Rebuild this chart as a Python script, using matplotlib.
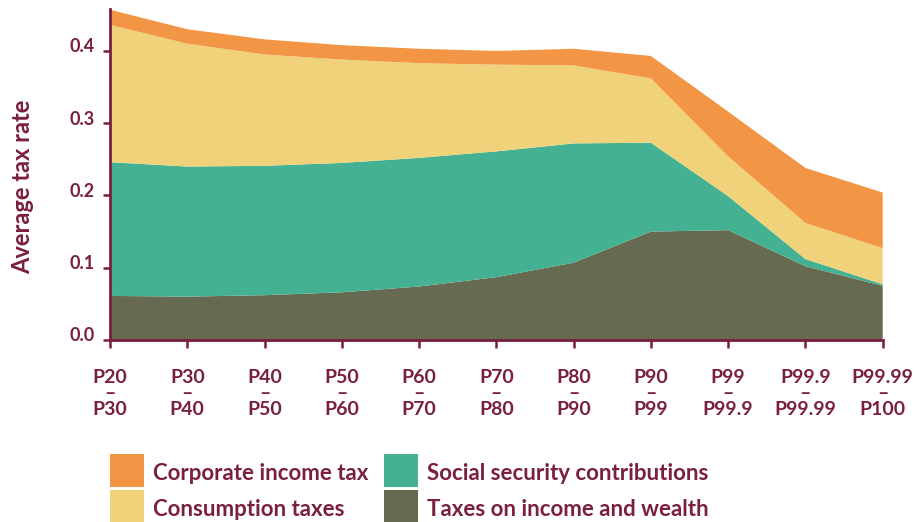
"""Average tax rate by income group, stacked by tax type."""

import matplotlib
matplotlib.use("Agg")
import matplotlib.pyplot as plt
import matplotlib.transforms as mtransforms
from matplotlib.patches import Rectangle

# data
groups = ["P20\n–\nP30", "P30\n–\nP40", "P40\n–\nP50", "P50\n–\nP60", "P60\n–\nP70",
          "P70\n–\nP80", "P80\n–\nP90", "P90\n–\nP99", "P99\n–\nP99.9",
          "P99.9\n–\nP99.99", "P99.99\n–\nP100"]
income_wealth = [0.061, 0.060, 0.062, 0.066, 0.074, 0.087, 0.107, 0.150, 0.152, 0.102, 0.075]
social_security = [0.185, 0.180, 0.179, 0.179, 0.178, 0.174, 0.165, 0.123, 0.047, 0.010, 0.002]
consumption = [0.190, 0.170, 0.154, 0.143, 0.131, 0.120, 0.108, 0.089, 0.055, 0.050, 0.050]
corporate = [0.021, 0.020, 0.021, 0.020, 0.020, 0.019, 0.023, 0.031, 0.062, 0.076, 0.077]
yticks = [0.0, 0.1, 0.2, 0.3, 0.4]

series_labels = ["Taxes on income and wealth", "Social security contributions",
                 "Consumption taxes", "Corporate income tax"]

# Colors
colors = ["#656a50", "#43b192", "#f0d27a", "#f29645"]
text_color = "#7a1f3d"
FONT = "Lato"
WEIGHT = "bold"

fig = plt.figure(figsize=(9.15, 5.22), dpi=100)
ax = fig.add_axes([110 / 915, 1 - 340 / 522, 772.7 / 915, 331 / 522])

x = list(range(len(groups)))
ax.stackplot(x, income_wealth, social_security, consumption, corporate,
             colors=colors, linewidth=0)

ax.set_xlim(0, len(groups) - 1)
ax.set_ylim(0, 0.458)

for side in ["top", "right"]:
    ax.spines[side].set_visible(False)
for side in ["left", "bottom"]:
    ax.spines[side].set_color(text_color)
    ax.spines[side].set_linewidth(2)

ax.set_yticks(yticks)
ax.set_yticklabels([f"{v:.1f}" for v in yticks], fontfamily=FONT,
                   fontweight=WEIGHT, fontsize=13, color=text_color)
ax.set_xticks(x)
ax.set_xticklabels(groups, fontfamily=FONT, fontweight=WEIGHT, fontsize=14,
                   color=text_color, linespacing=0.92)
ax.tick_params(axis="y", length=5, width=1.8, color=text_color, pad=6)
ax.tick_params(axis="x", length=6, width=1.8, color=text_color, pad=15)

# y labels sit a little above their ticks in the reference
shift = mtransforms.ScaledTranslation(0, 4 / 72, fig.dpi_scale_trans)
for lbl in ax.get_yticklabels():
    lbl.set_transform(lbl.get_transform() + shift)

fig.text(23 / 915, 1 - 187 / 522, "Average tax rate", rotation=90, ha="center",
         va="center", fontfamily=FONT, fontweight=WEIGHT, fontsize=17,
         color=text_color)

# Legend drawn by hand: two columns, two rows
legend_items = [(3, 110, 454, 480), (2, 110, 490, 516),
                (1, 384, 454, 480), (0, 384, 490, 516)]
for idx, px, py, base in legend_items:
    h = 33 if py < 480 else 32
    fig.patches.append(Rectangle((px / 915, 1 - (py + h) / 522), 34 / 915, h / 522,
                                 transform=fig.transFigure, facecolor=colors[idx],
                                 edgecolor="none"))
    fig.text((px + 43) / 915, 1 - base / 522, series_labels[idx], ha="left",
             va="baseline", fontfamily=FONT, fontweight=WEIGHT, fontsize=16,
             color=text_color)

fig.savefig("out.png", dpi=100)
